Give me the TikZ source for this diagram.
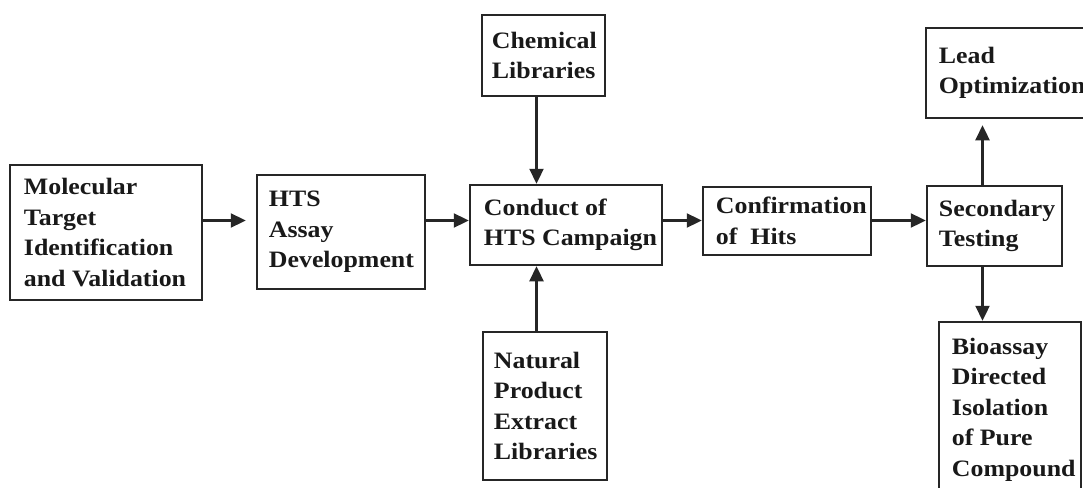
\documentclass[tikz,border=0pt]{standalone}
\usepackage{fontspec}
\setmainfont{Liberation Serif}[FakeStretch=1.1]
\usetikzlibrary{arrows.meta}
\begin{document}
\begin{tikzpicture}[x=1pt,y=-1pt,
  box/.style={draw=black!85, line width=2.5pt, inner sep=0pt},
  txt/.style={anchor=west, inner sep=0pt, align=left, text=black!90,
    font=\bfseries\fontsize{23.5}{30.5}\selectfont},
  arr/.style={draw=black!85, line width=2.3pt, -{Triangle[length=15pt,width=14pt]}}]
\useasboundingbox (0,0) rectangle (1083,487);
\clip (0,0) rectangle (1083,487);
\fill[white] (0,0) rectangle (1083,487);
% boxes
\node[box, minimum width=192pt, minimum height=135pt] (mol) at (106,232.5) {};
\node[box, minimum width=168pt, minimum height=114pt] (hts) at (341,232) {};
\node[box, minimum width=123pt, minimum height=81pt] (chem) at (543.5,55.5) {};
\node[box, minimum width=192pt, minimum height=80pt] (cond) at (566,225) {};
\node[box, minimum width=124pt, minimum height=148pt] (nat) at (545,406) {};
\node[box, minimum width=168pt, minimum height=68pt] (conf) at (787,221) {};
\node[box, minimum width=135pt, minimum height=80pt] (sec) at (994.5,226) {};
\node[box, minimum width=174pt, minimum height=90pt] (lead) at (1013,73) {};
\node[box, minimum width=142pt, minimum height=175pt] (bio) at (1010,409.5) {};
% texts
\node[txt] (molT) at ([xshift=15pt]mol.west) {Molecular\\Target\\Identification\\and Validation};
\node[txt] (htsT) at ([xshift=13pt]hts.west) {HTS\\Assay\\Development};
\node[txt] (chemT) at ([xshift=11pt]chem.west) {Chemical\\Libraries};
\node[txt] (condT) at ([xshift=15pt]cond.west) {Conduct of\\HTS Campaign};
\node[txt] (natT) at ([xshift=12pt]nat.west) {Natural\\Product\\Extract\\Libraries};
\node[txt] (confT) at ([xshift=14pt]conf.west) {Confirmation\\of\ \ Hits};
\node[txt] (secT) at ([xshift=13pt]sec.west) {Secondary\\Testing};
\node[txt] (leadT) at ([xshift=14pt]lead.west) {Lead\\Optimization};
\node[txt] (bioT) at ([xshift=14pt]bio.west) {Bioassay\\Directed\\Isolation\\of Pure\\Compound};
% guide coordinates
\coordinate (row) at (0,220.5);
\coordinate (colA) at (536.5,0);
\coordinate (colB) at (982.5,0);
% connectors
\draw[arr, shorten >=10pt] (mol.east |- row) -- (hts.west |- row);
\draw[arr] (hts.east |- row) -- (cond.west |- row);
\draw[arr] (cond.east |- row) -- (conf.west |- row);
\draw[arr] (conf.east |- row) -- (sec.west |- row);
\draw[arr] (chem.south -| colA) -- (cond.north -| colA);
\draw[arr] (nat.north -| colA) -- (cond.south -| colA);
\draw[arr, shorten >=6pt] (sec.north -| colB) -- (lead.south -| colB);
\draw[arr] (sec.south -| colB) -- (bio.north -| colB);
\end{tikzpicture}
\end{document}
